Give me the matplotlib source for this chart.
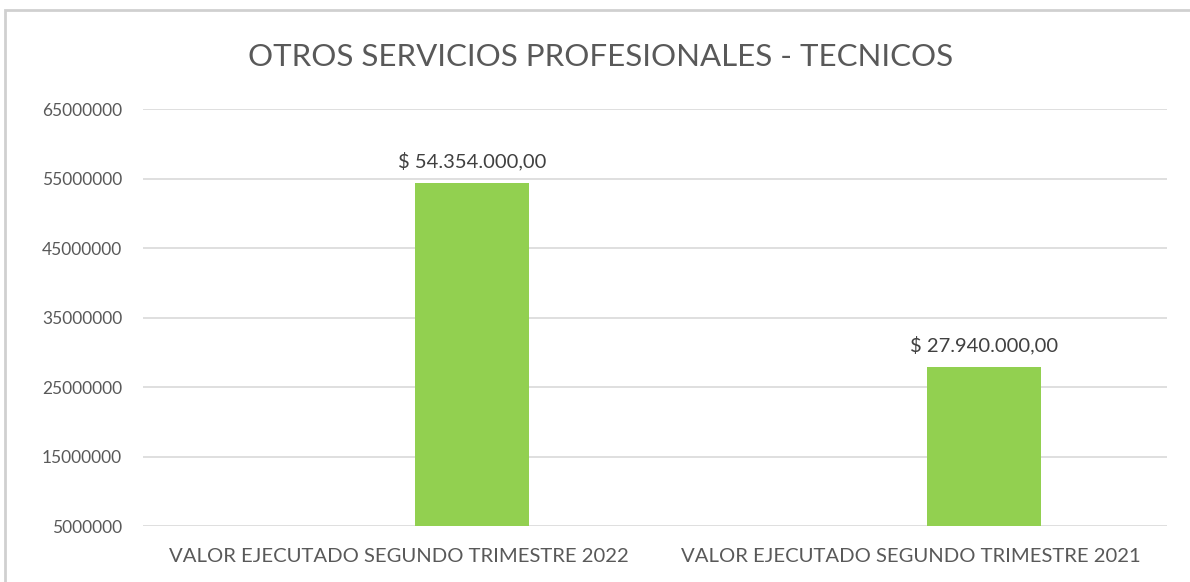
import matplotlib.pyplot as plt
from matplotlib.patches import Rectangle

CATEGORIES = ['VALOR EJECUTADO SEGUNDO TRIMESTRE 2022', 'VALOR EJECUTADO SEGUNDO TRIMESTRE 2021']
VALUES = [54354000, 27940000]
LABELS = ['$ 54.354.000,00', '$ 27.940.000,00']
YTICKS = [5000000, 15000000, 25000000, 35000000, 45000000, 55000000, 65000000]

TXT = '#595959'
plt.rcParams['font.family'] = ['Lato', 'DejaVu Sans']

fig = plt.figure(figsize=(11.9, 5.82), dpi=100)
ax = fig.add_axes([0.1202, 0.0962, 0.8605, 0.7165])

base = YTICKS[0]
xs = [i + 0.143 for i in range(len(CATEGORIES))]
ax.bar(xs, [v - base for v in VALUES], bottom=base, width=0.223, color='#92D050', zorder=3)
for x, v, lab in zip(xs, VALUES, LABELS):
    ax.text(x, v + 1800000, lab, ha='center', va='bottom', fontsize=14.5, color='#404040')

ax.set_xlim(-0.5, 1.5)
ax.set_ylim(YTICKS[0], YTICKS[-1])
ax.set_yticks(YTICKS)
ax.set_yticklabels([str(t) for t in YTICKS], fontsize=12.5, color=TXT)
ax.set_xticks(range(len(CATEGORIES)))
ax.set_xticklabels(CATEGORIES, fontsize=14.6, color=TXT)
ax.tick_params(axis='y', length=0, pad=15)
ax.tick_params(axis='x', length=0, pad=16)
ax.grid(axis='y', color='#D9D9D9', linewidth=1.2, zorder=0)
for s in ax.spines.values():
    s.set_visible(False)

fig.text(0.505, 0.902, 'OTROS SERVICIOS PROFESIONALES - TECNICOS', ha='center', va='center',
         fontsize=22.5, color=TXT)

fig.patches.append(Rectangle((5 / 1190, -0.1), 1.2, 1 - 10 / 582 + 0.1, transform=fig.transFigure,
                             fill=False, edgecolor='#D0D0D0', linewidth=2))

fig.savefig('out.png', dpi=100)
